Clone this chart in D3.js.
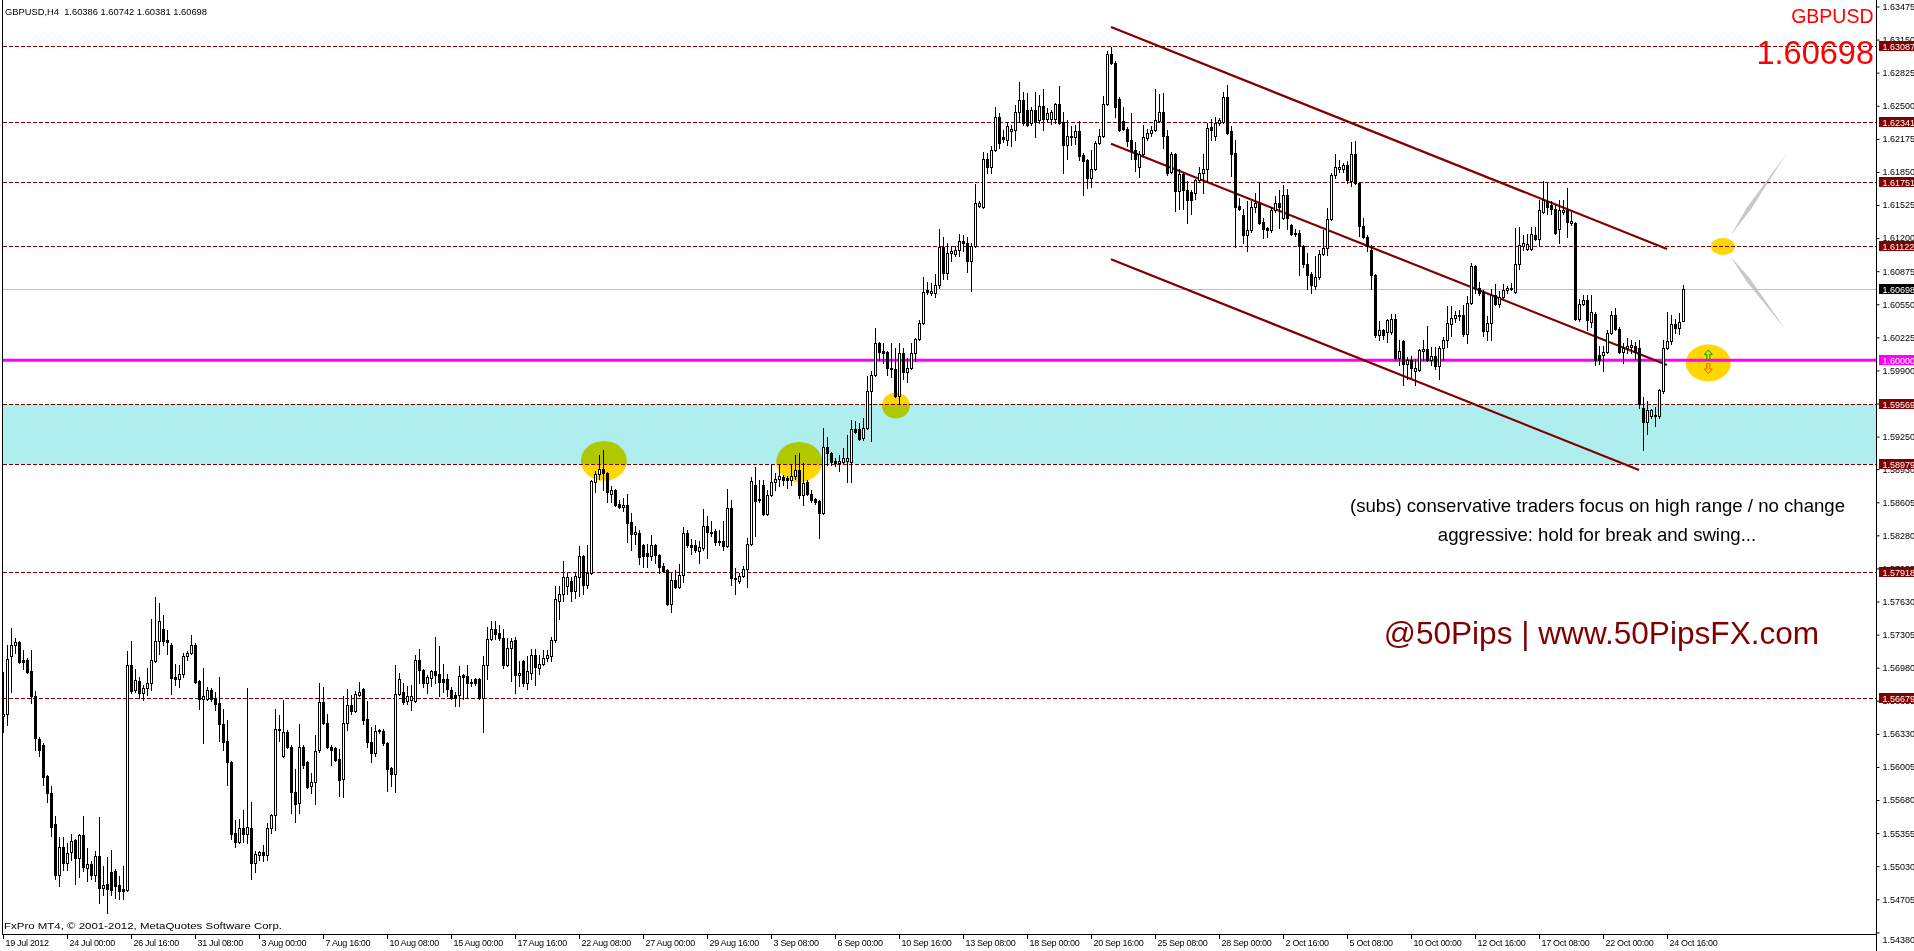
<!DOCTYPE html>
<html><head><meta charset="utf-8">
<script src="https://cdn.jsdelivr.net/npm/d3@7"></script>
<style>
html,body{margin:0;padding:0;background:#fff;overflow:hidden;}
svg{display:block;}
text{font-family:"Liberation Sans",Arial,sans-serif;}
</style></head><body>
<svg id="chart" width="1914" height="951"></svg>
<script>
// ---------------- DATA ----------------
const headerText = "GBPUSD,H4  1.60386 1.60742 1.60381 1.60698";
const symbolName = "GBPUSD";
const lastPrice = 1.60698;

const barOpen = [
1.5651,1.5653,1.5709,1.5720,1.5723,1.5706,1.5706,1.5695,1.5670,1.5628,
1.5622,1.5592,1.5575,1.5544,1.5494,1.5522,1.5506,1.5517,1.5529,1.5511,
1.5534,1.5501,1.5505,1.5494,1.5513,1.5482,1.5486,1.5497,1.5498,1.5485,
1.5481,1.5480,1.5701,1.5676,1.5685,1.5673,1.5678,1.5683,1.5705,1.5724,
1.5736,1.5725,1.5720,1.5689,1.5687,1.5692,1.5709,1.5712,1.5720,1.5685,
1.5667,1.5667,1.5676,1.5668,1.5663,1.5643,1.5626,1.5605,1.5536,1.5527,
1.5541,1.5535,1.5541,1.5506,1.5514,1.5517,1.5514,1.5541,1.5553,1.5638,
1.5611,1.5635,1.5620,1.5576,1.5565,1.5620,1.5605,1.5582,1.5586,1.5617,
1.5664,1.5644,1.5620,1.5619,1.5608,1.5589,1.5644,1.5661,1.5655,1.5671,
1.5677,1.5648,1.5625,1.5614,1.5636,1.5636,1.5624,1.5599,1.5594,1.5672,
1.5674,1.5665,1.5666,1.5665,1.5706,1.5696,1.5683,
1.5688,1.5695,1.5692,1.5687,1.5687,1.5676,1.5671,1.5671,1.5691,1.5690,1.5684,1.5687,1.5687,
1.5668,1.5701,1.5726,1.5736,1.5732,1.5727,1.5701,1.5717,1.5725,1.5691,
1.5705,1.5683,1.5693,1.5710,1.5698,1.5702,1.5708,1.5709,1.5725,1.5764,
1.5770,1.5778,1.5783,1.5773,1.5787,1.5808,1.5779,1.5791,1.5880,1.5888,
1.5893,1.5889,1.5869,1.5873,1.5859,1.5856,1.5858,1.5841,1.5829,1.5830,
1.5819,1.5811,1.5808,1.5819,1.5809,1.5798,1.5794,1.5761,1.5784,1.5777,
1.5789,1.5830,1.5819,1.5819,1.5813,1.5816,1.5837,1.5831,1.5832,1.5822,
1.5822,1.5818,1.5855,1.5786,1.5783,1.5788,1.5795,1.5820,1.5877,1.5864,
1.5877,1.5849,1.5868,1.5880,1.5883,1.5885,1.5884,1.5882,1.5886,1.5892,
1.5868,1.5880,1.5869,1.5864,1.5862,1.5850,1.5915,1.5909,1.5901,1.5899,
1.5900,1.5901,1.5900,1.5932,1.5932,
1.5924,1.5933,1.5970,1.5986,1.6017,
1.6009,1.6008,1.5992,1.5991,1.5965,1.6007,1.5988,1.5992,1.6007,1.6021,
1.6037,1.6069,1.6066,1.6066,1.6074,1.6111,1.6086,1.6105,1.6104,1.6108,
1.6117,1.6115,1.6098,1.6112,1.6152,1.6151,1.6198,1.6190,1.6207,1.6239,
1.6219,1.6216,1.6225,1.6226,1.6244,1.6256,1.6246,1.6233,1.6246,1.6236,
1.6250,1.6237,1.6237,1.6237,1.6252,1.6234,1.6211,1.6220,1.6219,1.6225,
1.6202,1.6197,1.6179,1.6188,1.6213,1.6220,1.6252,1.6301,1.6292,1.6257,
1.6235,1.6227,1.6216,1.6207,1.6190,1.6203,1.6218,1.6223,1.6226,1.6235,
1.6244,1.6220,1.6185,1.6203,1.6166,1.6183,1.6167,1.6165,1.6164,1.6177,
1.6184,1.6188,1.6229,1.6220,1.6233,1.6234,1.6259,1.6225,1.6204,1.6152,
1.6143,1.6123,1.6128,1.6151,1.6154,1.6136,1.6130,1.6128,1.6148,1.6154,
1.6140,1.6162,1.6133,1.6125,1.6125,1.6112,1.6095,1.6085,1.6073,1.6082,
1.6104,1.6110,1.6139,1.6182,1.6188,1.6188,1.6192,1.6176,1.6203,1.6174,
1.6132,1.6121,1.6108,1.6084,1.6025,1.6030,1.6028,1.6028,1.6041,1.6002,
1.6019,1.5996,1.6000,1.5989,1.5990,1.6009,1.6011,1.6000,1.6004,1.5994,
1.6012,1.6020,1.6036,1.6042,1.6043,1.6044,1.6026,1.6056,1.6093,1.6071,
1.6067,1.6029,1.6037,1.6064,1.6055,1.6062,1.6069,1.6070,1.6067,1.6095,
1.6112,1.6109,1.6109,1.6123,1.6119,1.6146,1.6156,1.6153,1.6149,1.6129,
1.6146,1.6148,1.6135,1.6135,1.6041,1.6055,1.6059,1.6038,1.6045,1.6005,
1.6005,1.6008,1.6027,1.6044,1.6031,1.6008,1.6012,1.6013,1.6014,1.6012,
1.5953,1.5939,1.5945,1.5946,1.5945,1.5970,1.6012,1.6019,1.6036,1.6032,
1.60386];

const barHigh = [
1.5694,1.5720,1.5737,1.5727,1.5724,1.5715,1.5708,1.5715,1.5675,1.5630,
1.5624,1.5593,1.5582,1.5552,1.5532,1.5532,1.5526,1.5535,1.5530,1.5535,
1.5552,1.5521,1.5508,1.5518,1.5551,1.5503,1.5512,1.5519,1.5500,1.5493,
1.5503,1.5714,1.5724,1.5697,1.5689,1.5681,1.5698,1.5746,1.5767,1.5762,
1.5750,1.5735,1.5722,1.5702,1.5701,1.5712,1.5714,1.5730,1.5722,1.5686,
1.5698,1.5679,1.5678,1.5674,1.5689,1.5657,1.5647,1.5606,1.5548,1.5549,
1.5558,1.5678,1.5566,1.5518,1.5518,1.5524,1.5545,1.5554,1.5657,1.5652,
1.5666,1.5637,1.5622,1.5598,1.5643,1.5622,1.5606,1.5595,1.5632,1.5683,
1.5679,1.5653,1.5622,1.5620,1.5618,1.5670,1.5677,1.5671,1.5675,1.5684,
1.5678,1.5665,1.5640,1.5642,1.5638,1.5638,1.5625,1.5600,1.5701,1.5693,
1.5683,1.5680,1.5681,1.5710,1.5716,1.5697,1.5691,
1.5696,1.5728,1.5719,1.5702,1.5692,1.5679,1.5674,1.5700,1.5692,1.5701,1.5687,1.5688,1.5688,
1.5709,1.5738,1.5744,1.5744,1.5740,1.5736,1.5727,1.5727,1.5728,1.5705,
1.5706,1.5709,1.5716,1.5716,1.5710,1.5715,1.5715,1.5728,1.5778,1.5778,
1.5803,1.5791,1.5787,1.5791,1.5818,1.5809,1.5819,1.5882,1.5891,1.5907,
1.5912,1.5890,1.5876,1.5874,1.5863,1.5865,1.5869,1.5850,1.5837,1.5833,
1.5820,1.5820,1.5828,1.5820,1.5810,1.5801,1.5795,1.5791,1.5794,1.5800,
1.5836,1.5833,1.5824,1.5823,1.5822,1.5854,1.5847,1.5842,1.5834,1.5833,
1.5842,1.5874,1.5863,1.5796,1.5791,1.5798,1.5825,1.5885,1.5895,1.5882,
1.5882,1.5873,1.5898,1.5889,1.5897,1.5887,1.5886,1.5898,1.5907,1.5909,
1.5899,1.5882,1.5873,1.5865,1.5863,1.5933,1.5925,1.5910,1.5904,1.5907,
1.5914,1.5927,1.5941,1.5940,1.5938,
1.5943,1.5985,1.5989,1.6032,1.6018,
1.6017,1.6009,1.6017,1.6012,1.6017,1.6012,1.6002,1.6017,1.6022,1.6040,
1.6082,1.6077,1.6076,1.6085,1.6129,1.6121,1.6115,1.6112,1.6112,1.6124,
1.6123,1.6121,1.6115,1.6173,1.6156,1.6205,1.6204,1.6210,1.6249,1.6243,
1.6226,1.6234,1.6231,1.6251,1.6273,1.6264,1.6263,1.6249,1.6264,1.6261,
1.6266,1.6248,1.6246,1.6253,1.6269,1.6244,1.6236,1.6230,1.6231,1.6235,
1.6204,1.6198,1.6207,1.6215,1.6227,1.6260,1.6304,1.6308,1.6294,1.6259,
1.6249,1.6229,1.6243,1.6214,1.6206,1.6231,1.6227,1.6230,1.6266,1.6262,
1.6263,1.6226,1.6205,1.6204,1.6188,1.6184,1.6176,1.6167,1.6178,1.6190,
1.6203,1.6233,1.6237,1.6239,1.6238,1.6264,1.6270,1.6230,1.6216,1.6159,
1.6149,1.6156,1.6156,1.6164,1.6175,1.6140,1.6131,1.6151,1.6161,1.6167,
1.6172,1.6168,1.6134,1.6129,1.6128,1.6113,1.6105,1.6087,1.6102,1.6108,
1.6128,1.6150,1.6184,1.6203,1.6197,1.6194,1.6196,1.6214,1.6215,1.6175,
1.6140,1.6123,1.6113,1.6085,1.6039,1.6031,1.6041,1.6045,1.6045,1.6020,
1.6020,1.6003,1.6004,1.6001,1.6011,1.6020,1.6034,1.6013,1.6013,1.6014,
1.6023,1.6053,1.6053,1.6048,1.6049,1.6054,1.6063,1.6096,1.6094,1.6077,
1.6069,1.6043,1.6070,1.6075,1.6068,1.6075,1.6073,1.6076,1.6130,1.6131,
1.6123,1.6124,1.6131,1.6131,1.6157,1.6176,1.6175,1.6156,1.6153,1.6157,
1.6157,1.6169,1.6146,1.6136,1.6060,1.6064,1.6064,1.6064,1.6047,1.6014,
1.6014,1.6030,1.6048,1.6051,1.6033,1.6017,1.6022,1.6020,1.6018,1.6020,
1.5964,1.5960,1.5952,1.5954,1.5972,1.6020,1.6047,1.6044,1.6041,1.6046,
1.60742];

const barLow = [
1.5635,1.5642,1.5674,1.5712,1.5703,1.5697,1.5693,1.5663,1.5617,1.5611,
1.5583,1.5566,1.5533,1.5490,1.5484,1.5499,1.5499,1.5509,1.5486,1.5492,
1.5498,1.5488,1.5490,1.5488,1.5467,1.5475,1.5457,1.5475,1.5472,1.5471,
1.5471,1.5479,1.5673,1.5674,1.5668,1.5666,1.5671,1.5676,1.5704,1.5711,
1.5720,1.5711,1.5672,1.5681,1.5679,1.5689,1.5706,1.5711,1.5683,1.5657,
1.5624,1.5666,1.5665,1.5656,1.5626,1.5617,1.5583,1.5530,1.5522,1.5526,
1.5527,1.5526,1.5490,1.5497,1.5509,1.5508,1.5509,1.5536,1.5539,1.5626,
1.5610,1.5619,1.5555,1.5546,1.5555,1.5599,1.5580,1.5575,1.5564,1.5615,
1.5643,1.5619,1.5602,1.5606,1.5572,1.5571,1.5637,1.5653,1.5654,1.5670,
1.5643,1.5620,1.5605,1.5611,1.5634,1.5622,1.5577,1.5582,1.5576,1.5671,
1.5662,1.5662,1.5656,1.5664,1.5683,1.5679,1.5673,
1.5680,1.5683,1.5670,1.5674,1.5670,1.5667,1.5660,1.5660,1.5667,1.5668,1.5680,1.5681,1.5667,
1.5635,1.5687,1.5725,1.5726,1.5725,1.5698,1.5700,1.5685,1.5673,1.5680,
1.5680,1.5677,1.5687,1.5681,1.5692,1.5701,1.5705,1.5705,1.5723,1.5746,
1.5764,1.5770,1.5764,1.5766,1.5768,1.5770,1.5776,1.5790,1.5871,1.5883,
1.5873,1.5861,1.5861,1.5857,1.5855,1.5852,1.5821,1.5814,1.5820,1.5800,
1.5797,1.5797,1.5804,1.5801,1.5791,1.5792,1.5760,1.5753,1.5776,1.5776,
1.5782,1.5817,1.5810,1.5812,1.5801,1.5814,1.5806,1.5827,1.5819,1.5819,
1.5814,1.5817,1.5779,1.5770,1.5781,1.5787,1.5777,1.5819,1.5827,1.5861,
1.5848,1.5848,1.5867,1.5873,1.5876,1.5877,1.5875,1.5877,1.5883,1.5865,
1.5858,1.5868,1.5861,1.5859,1.5825,1.5849,1.5897,1.5897,1.5896,1.5891,
1.5899,1.5880,1.5880,1.5929,1.5922,
1.5922,1.5932,1.5921,1.5985,1.6000,
1.5997,1.5986,1.5984,1.5964,1.5957,1.5982,1.5979,1.5991,1.5999,1.6020,
1.6036,1.6065,1.6064,1.6062,1.6071,1.6080,1.6080,1.6098,1.6102,1.6102,
1.6107,1.6087,1.6068,1.6111,1.6151,1.6150,1.6184,1.6184,1.6206,1.6209,
1.6214,1.6211,1.6210,1.6216,1.6234,1.6231,1.6230,1.6231,1.6219,1.6233,
1.6226,1.6234,1.6232,1.6233,1.6232,1.6184,1.6198,1.6211,1.6212,1.6197,
1.6162,1.6169,1.6170,1.6187,1.6212,1.6219,1.6251,1.6291,1.6239,1.6225,
1.6226,1.6210,1.6198,1.6186,1.6180,1.6201,1.6216,1.6220,1.6225,1.6234,
1.6209,1.6182,1.6184,1.6147,1.6149,1.6149,1.6135,1.6144,1.6158,1.6175,
1.6164,1.6176,1.6216,1.6216,1.6231,1.6233,1.6222,1.6181,1.6111,1.6148,
1.6115,1.6107,1.6126,1.6146,1.6134,1.6120,1.6121,1.6126,1.6146,1.6130,
1.6139,1.6129,1.6123,1.6122,1.6084,1.6092,1.6070,1.6066,1.6070,1.6080,
1.6103,1.6103,1.6138,1.6179,1.6185,1.6185,1.6174,1.6171,1.6173,1.6122,
1.6120,1.6107,1.6070,1.6023,1.6020,1.6021,1.6018,1.6026,1.6000,1.5995,
1.5976,1.5982,1.5984,1.5976,1.5989,1.6000,1.5999,1.5995,1.5991,1.5982,
1.6000,1.6013,1.6024,1.6038,1.6040,1.6024,1.6017,1.6055,1.6066,1.6064,
1.6024,1.6020,1.6020,1.6054,1.6052,1.6061,1.6066,1.6069,1.6066,1.6090,
1.6108,1.6108,1.6108,1.6118,1.6113,1.6145,1.6144,1.6144,1.6124,1.6115,
1.6144,1.6121,1.6133,1.6040,1.6039,1.6054,1.6030,1.6033,1.5995,1.5996,
1.5989,1.6007,1.6026,1.6030,1.6007,1.5997,1.6007,1.6007,1.6001,1.5953,
1.5912,1.5928,1.5943,1.5935,1.5943,1.5968,1.6011,1.6016,1.6027,1.6026,
1.60381];

const barClose = [
1.5653,1.5707,1.5720,1.5723,1.5704,1.5704,1.5694,1.5670,1.5629,1.5617,
1.5591,1.5575,1.5542,1.5494,1.5522,1.5506,1.5516,1.5528,1.5511,1.5534,
1.5502,1.5505,1.5494,1.5513,1.5482,1.5485,1.5481,1.5480,1.5484,1.5479,
1.5479,1.5701,1.5675,1.5686,1.5673,1.5678,1.5683,1.5706,1.5724,1.5744,
1.5724,1.5723,1.5688,1.5687,1.5692,1.5709,1.5712,1.5720,1.5684,1.5667,
1.5670,1.5676,1.5667,1.5662,1.5643,1.5625,1.5605,1.5535,1.5527,1.5541,
1.5535,1.5542,1.5506,1.5515,1.5517,1.5514,1.5541,1.5553,1.5638,1.5637,
1.5635,1.5620,1.5576,1.5564,1.5620,1.5602,1.5581,1.5586,1.5616,1.5664,
1.5644,1.5620,1.5617,1.5607,1.5588,1.5644,1.5661,1.5655,1.5672,1.5674,
1.5647,1.5625,1.5614,1.5636,1.5637,1.5624,1.5598,1.5594,1.5672,1.5687,
1.5664,1.5670,1.5670,1.5706,1.5696,1.5683,1.5689,
1.5695,1.5691,1.5684,1.5684,1.5677,1.5668,1.5668,1.5690,1.5689,1.5683,1.5683,1.5683,1.5668,
1.5701,1.5726,1.5736,1.5731,1.5727,1.5701,1.5717,1.5724,1.5691,1.5693,
1.5683,1.5695,1.5710,1.5699,1.5702,1.5708,1.5710,1.5725,1.5765,1.5770,
1.5787,1.5787,1.5773,1.5788,1.5808,1.5779,1.5791,1.5881,1.5888,1.5893,
1.5889,1.5871,1.5873,1.5858,1.5856,1.5858,1.5840,1.5829,1.5831,1.5807,
1.5808,1.5808,1.5819,1.5809,1.5797,1.5793,1.5761,1.5784,1.5777,1.5789,
1.5830,1.5819,1.5817,1.5814,1.5817,1.5837,1.5831,1.5830,1.5821,1.5821,
1.5818,1.5855,1.5786,1.5785,1.5788,1.5795,1.5820,1.5881,1.5862,1.5863,
1.5849,1.5868,1.5880,1.5883,1.5886,1.5882,1.5882,1.5886,1.5892,1.5868,
1.5879,1.5869,1.5863,1.5861,1.5850,1.5915,1.5909,1.5900,1.5899,1.5901,
1.5904,1.5904,1.5932,1.5930,1.5923,
1.5933,1.5970,1.5986,1.6017,1.6008,
1.6007,1.5992,1.5991,1.5965,1.6007,1.5988,1.5992,1.6007,1.6021,1.6037,
1.6067,1.6067,1.6068,1.6074,1.6111,1.6086,1.6105,1.6107,1.6108,1.6117,
1.6115,1.6098,1.6112,1.6154,1.6154,1.6198,1.6190,1.6207,1.6239,1.6213,
1.6217,1.6230,1.6227,1.6244,1.6256,1.6233,1.6231,1.6246,1.6234,1.6250,
1.6237,1.6243,1.6244,1.6252,1.6233,1.6211,1.6220,1.6219,1.6225,1.6201,
1.6196,1.6179,1.6188,1.6213,1.6220,1.6252,1.6301,1.6292,1.6249,1.6226,
1.6227,1.6215,1.6206,1.6198,1.6203,1.6219,1.6223,1.6226,1.6236,1.6244,
1.6220,1.6184,1.6203,1.6166,1.6183,1.6167,1.6157,1.6157,1.6177,1.6184,
1.6188,1.6228,1.6226,1.6233,1.6236,1.6259,1.6223,1.6203,1.6151,1.6149,
1.6123,1.6128,1.6151,1.6154,1.6135,1.6129,1.6128,1.6148,1.6154,1.6151,
1.6162,1.6140,1.6124,1.6124,1.6112,1.6095,1.6084,1.6074,1.6082,1.6104,
1.6110,1.6139,1.6182,1.6190,1.6190,1.6192,1.6177,1.6203,1.6174,1.6132,
1.6121,1.6112,1.6084,1.6025,1.6030,1.6025,1.6040,1.6041,1.6002,1.6009,
1.5996,1.6000,1.5992,1.5992,1.6010,1.6011,1.6000,1.6004,1.5994,1.6012,
1.6020,1.6037,1.6042,1.6044,1.6044,1.6026,1.6056,1.6093,1.6071,1.6066,
1.6029,1.6037,1.6064,1.6055,1.6062,1.6069,1.6071,1.6071,1.6095,1.6113,
1.6115,1.6114,1.6124,1.6119,1.6148,1.6157,1.6151,1.6149,1.6125,1.6148,
1.6148,1.6136,1.6137,1.6041,1.6055,1.6059,1.6040,1.6047,1.6000,1.6000,
1.6008,1.6027,1.6044,1.6031,1.6008,1.6012,1.6014,1.6015,1.6008,1.5957,
1.5939,1.5951,1.5951,1.5945,1.5971,1.6012,1.6019,1.6036,1.6032,1.6038,
1.60698];

// time axis labels, one every 16 H4 bars
const timeLabelStep = 16;
const timeLabels = ["19 Jul 2012","24 Jul 00:00","26 Jul 16:00","31 Jul 08:00","3 Aug 00:00","7 Aug 16:00",
"10 Aug 08:00","15 Aug 00:00","17 Aug 16:00","22 Aug 08:00","27 Aug 00:00","29 Aug 16:00","3 Sep 08:00",
"6 Sep 00:00","10 Sep 16:00","13 Sep 08:00","18 Sep 00:00","20 Sep 16:00","25 Sep 08:00","28 Sep 00:00",
"2 Oct 16:00","5 Oct 08:00","10 Oct 00:00","12 Oct 16:00","17 Oct 08:00","22 Oct 00:00","24 Oct 16:00"];

const priceTicks = [1.63475,1.63150,1.62825,1.62500,1.62175,1.61850,1.61525,1.61200,1.60875,1.60550,
1.60225,1.59900,1.59575,1.59250,1.58930,1.58605,1.58280,1.57955,1.57630,1.57305,1.56980,1.56655,
1.56330,1.56005,1.55680,1.55355,1.55030,1.54705,1.54380];

const levelLines = [1.63087,1.62341,1.61751,1.61122,1.59569,1.58979,1.57918,1.56679];
const supportZone = [1.58979,1.59569];
const pivotLevel = 1.60000;

// trend channel: [startBar, startPrice, endBar, endPrice]
const channelTop    = [277,1.63274,416,1.61093];
const channelMiddle = [277,1.62126,416,1.59954];
const channelBottom = [277,1.60992,409,1.58922];

// highlight ellipses centred at [bar, price]
const highlightBars   = [150.1,198.95,223.1,426.2,429.85];
const highlightPrices = [1.59011,1.59001,1.59556,1.59973,1.61117];

// projection fan from the last highlight: [bar, price] end points
const fanEndBars   = [446,445.75];
const fanEndPrices = [1.62037,1.60297];

const noteLines = ["(subs) conservative traders focus on high range / no change","aggressive: hold for break and swing..."];
const brandText = "@50Pips | www.50PipsFX.com";
const footerText = "FxPro MT4, \u00A9 2001-2012, MetaQuotes Software Corp.";

// ---------------- DRAW ----------------
const W = 1914, H = 951, plotRight = 1876.5, plotBottom = 934.5;
const maroon = "#800000";
const svg = d3.select("#chart");
svg.append("rect").attr("width", W).attr("height", H).attr("fill", "#fff");

const x = d3.scaleLinear().domain([0, 420]).range([3, 1683]);
const y = d3.scaleLinear().domain([1.54364, 1.63539]).range([934, 0]);

// support zone
svg.append("rect").attr("x", 3).attr("width", plotRight - 3)
  .attr("y", y(supportZone[1])).attr("height", y(supportZone[0]) - y(supportZone[1]))
  .attr("fill", "#AFEEEE");

// highlight ellipses
const ellR = [[23, 20], [23, 20], [14, 13], [22.5, 18.5], [12, 8.5]];
svg.append("g").selectAll("ellipse").data(highlightBars).join("ellipse")
  .attr("cx", d => x(d) + 0.5).attr("cy", (d, i) => y(highlightPrices[i]))
  .attr("rx", (d, i) => ellR[i][0]).attr("ry", (d, i) => ellR[i][1])
  .attr("fill", "#FFD700").style("mix-blend-mode", "multiply");

// fan wedges
const fanStart = [x(highlightBars[4]) + 0.5, y(highlightPrices[4])];
fanEndBars.forEach((b, i) => {
  const ex = x(b), ey = y(fanEndPrices[i]);
  const dx = ex - fanStart[0], dy = ey - fanStart[1];
  const len = Math.hypot(dx, dy), nx = -dy / len, ny = dx / len;
  const sx = fanStart[0] + dx * 0.12, sy = fanStart[1] + dy * 0.12;
  const mx = fanStart[0] + dx * 0.4, my = fanStart[1] + dy * 0.4;
  const w = 2.2;
  svg.append("polygon")
    .attr("points", [[sx, sy], [mx + nx * w, my + ny * w], [ex, ey], [mx - nx * w, my - ny * w]].map(p => p.join(",")).join(" "))
    .attr("fill", "#C8C8C8");
});

// level lines
svg.append("g").selectAll("line").data(levelLines).join("line")
  .attr("x1", 3).attr("x2", plotRight)
  .attr("y1", d => Math.round(y(d)) + 0.5).attr("y2", d => Math.round(y(d)) + 0.5)
  .attr("stroke", maroon).attr("stroke-width", 1).attr("stroke-dasharray", "4,2")
  .attr("shape-rendering", "crispEdges");

// current price line
svg.append("line").attr("x1", 3).attr("x2", plotRight)
  .attr("y1", Math.round(y(lastPrice)) + 0.5).attr("y2", Math.round(y(lastPrice)) + 0.5)
  .attr("stroke", "#C0C0C0").attr("stroke-width", 1).attr("shape-rendering", "crispEdges");

// pivot line
svg.append("line").attr("x1", 3).attr("x2", plotRight)
  .attr("y1", y(pivotLevel)).attr("y2", y(pivotLevel))
  .attr("stroke", "#FF00FF").attr("stroke-width", 3);

// channel lines
[channelTop, channelMiddle, channelBottom].forEach(c => {
  svg.append("line")
    .attr("x1", x(c[0])).attr("y1", y(c[1])).attr("x2", x(c[2])).attr("y2", y(c[3]))
    .attr("stroke", maroon).attr("stroke-width", 2.2);
});

// arrows inside the pivot highlight
const ax = x(highlightBars[3]) + 0.5;
const upY = y(1.60052), dnY = y(1.59918);
const arrowPts = s => [[0, -5 * s], [4, -0.5 * s], [1.5, -0.5 * s], [1.5, 5 * s], [-1.5, 5 * s], [-1.5, -0.5 * s], [-4, -0.5 * s]];
svg.append("polygon").attr("points", arrowPts(1).map(p => [ax + p[0], upY + p[1]].join(",")).join(" "))
  .attr("fill", "none").attr("stroke", "#00A000").attr("stroke-width", 1);
svg.append("polygon").attr("points", arrowPts(-1).map(p => [ax + p[0], dnY + p[1]].join(",")).join(" "))
  .attr("fill", "none").attr("stroke", "#FF5000").attr("stroke-width", 1);

// candles
const bars = d3.range(barOpen.length).map(i => ({ i, o: barOpen[i], h: barHigh[i], l: barLow[i], c: barClose[i] }));
const cg = svg.append("g").attr("shape-rendering", "crispEdges");
cg.selectAll("line.wick").data(bars).join("line").attr("class", "wick")
  .attr("x1", d => x(d.i) + 0.5).attr("x2", d => x(d.i) + 0.5)
  .attr("y1", d => Math.round(y(d.h))).attr("y2", d => Math.round(y(d.l)) + 1)
  .attr("stroke", "#000").attr("stroke-width", 1);
bars.forEach(d => {
  const cx = x(d.i);
  const yo = Math.round(y(d.o)), yc = Math.round(y(d.c));
  if (yo === yc) {
    cg.append("line").attr("x1", cx - 1).attr("x2", cx + 2).attr("y1", yo + 0.5).attr("y2", yo + 0.5)
      .attr("stroke", "#000").attr("stroke-width", 1);
  } else if (d.c > d.o) {
    cg.append("rect").attr("x", cx - 0.5).attr("y", yc + 0.5).attr("width", 2).attr("height", yo - yc)
      .attr("fill", "#fff").attr("stroke", "#000").attr("stroke-width", 1);
  } else {
    cg.append("rect").attr("x", cx - 1).attr("y", yo).attr("width", 3).attr("height", yc - yo + 1)
      .attr("fill", "#000");
  }
});

// frame
svg.append("line").attr("x1", 2.5).attr("x2", 2.5).attr("y1", 0).attr("y2", plotBottom).attr("stroke", "#000");
svg.append("line").attr("x1", 2).attr("x2", plotRight).attr("y1", plotBottom).attr("y2", plotBottom).attr("stroke", "#000");
svg.append("line").attr("x1", plotRight).attr("x2", plotRight).attr("y1", 0).attr("y2", H).attr("stroke", "#000");

// right price axis
const yAxis = d3.axisRight(y).tickValues(priceTicks).tickFormat(d3.format(".5f")).tickSize(3).tickPadding(3).tickSizeOuter(0);
const yg = svg.append("g").attr("transform", `translate(${plotRight},0)`).call(yAxis);
yg.select(".domain").remove();
yg.attr("font-family", null).attr("font-size", null);
yg.selectAll("text").attr("font-size", 9).attr("fill", "#000");
yg.selectAll(".tick").filter(d => y(d) > 925).select("text").attr("y", 7);

// bottom time axis
const tickBars = timeLabels.map((t, k) => k * timeLabelStep);
const xAxis = d3.axisBottom(x).tickValues(tickBars).tickFormat((d, k) => timeLabels[k]).tickSize(5).tickSizeOuter(0);
const xg = svg.append("g").attr("transform", `translate(0,${plotBottom - 0.5})`).call(xAxis);
xg.select(".domain").remove();
xg.attr("font-family", null).attr("font-size", null);
xg.selectAll("text").attr("font-size", 9).attr("fill", "#000").attr("text-anchor", "start")
  .attr("x", 2).attr("dy", null).attr("y", 12).style("letter-spacing", "-0.3px");

// price label boxes
const boxes = levelLines.map(v => ({ v, bg: maroon }))
  .concat([{ v: lastPrice, bg: "#000" }, { v: pivotLevel, bg: "#FF00FF" }]);
const bg = svg.append("g");
boxes.forEach(b => {
  const yy = Math.round(y(b.v));
  bg.append("rect").attr("x", 1879).attr("y", yy - 5).attr("width", 40).attr("height", 10).attr("fill", b.bg);
  bg.append("text").attr("x", 1882.5).attr("y", yy + 3.5).attr("font-size", 9).attr("fill", "#fff")
    .text(d3.format(".5f")(b.v));
});

// texts
svg.append("text").attr("x", 5).attr("y", 14.5).attr("font-size", 9.3).attr("fill", "#000")
  .style("white-space", "pre").attr("textLength", 202).attr("lengthAdjust", "spacingAndGlyphs").text(headerText);
svg.append("text").attr("x", 4).attr("y", 929).attr("font-size", 9.3).attr("fill", "#000")
  .attr("textLength", 278).attr("lengthAdjust", "spacingAndGlyphs").text(footerText);

svg.append("text").attr("x", 1873.5).attr("y", 22.5).attr("text-anchor", "end")
  .attr("font-size", 19.5).attr("fill", "#FF0000").text(symbolName);
svg.append("text").attr("x", 1874).attr("y", 64).attr("text-anchor", "end")
  .attr("font-size", 32.5).attr("fill", "#FF0000").text(d3.format(".5f")(lastPrice));

svg.append("text").attr("x", 1597.5).attr("y", 511.5).attr("text-anchor", "middle")
  .attr("font-size", 18.6).attr("fill", "#000").text(noteLines[0]);
svg.append("text").attr("x", 1597).attr("y", 540.5).attr("text-anchor", "middle")
  .attr("font-size", 18.6).attr("fill", "#000").text(noteLines[1]);
svg.append("text").attr("x", 1601.5).attr("y", 644).attr("text-anchor", "middle")
  .attr("font-size", 31.6).attr("fill", maroon).text(brandText);
</script>
</body></html>
